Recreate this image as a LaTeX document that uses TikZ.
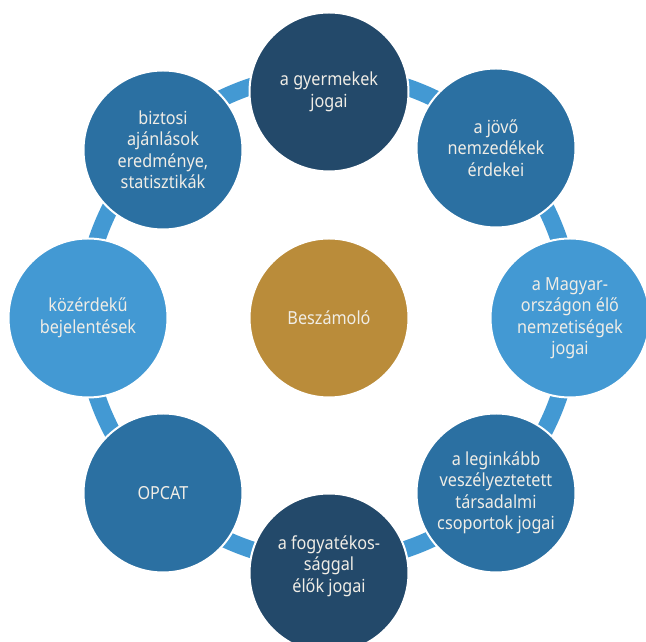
\documentclass[tikz,border=0pt]{standalone}
\usepackage{fontspec}
\setmainfont{Noto Sans}[FakeStretch=0.9]
\definecolor{navy}{HTML}{23496A}
\definecolor{midblue}{HTML}{2B70A2}
\definecolor{lightblue}{HTML}{4399D3}
\definecolor{gold}{HTML}{BA8C3A}
\definecolor{txt}{HTML}{F0EDE6}
\begin{document}
\begin{tikzpicture}[x=1pt,y=1pt,
  bubble/.style={circle, minimum size=159pt, inner sep=0pt, draw=white, line width=2pt,
    text=txt, align=center, font=\fontsize{18}{21.5}\selectfont},
  conn/.style={draw=lightblue, line width=17pt}]
\clip (0,0) rectangle (646,642);
\coordinate (ring) at (328,324);
\foreach \a [evaluate=\a as \s using \a-12, evaluate=\a as \e using \a+12] in {22.5,67.5,...,337.5}
  \draw[conn] ([shift={(\s:244pt)}]ring) arc[start angle=\s, end angle=\e, radius=244pt];
\node[bubble, fill=navy] (t) at (329,550) {a gyermekek\\jogai};
\node[bubble, fill=midblue] (tr) at (496,494) {a jövő\\nemzedékek\\érdekei};
\node[bubble, fill=lightblue] (r) at (570,324) {a Magyar-\\országon élő\\nemzetiségek\\jogai};
\node[bubble, fill=midblue] (br) at (496,149) {a leginkább\\veszélyeztetett\\társadalmi\\csoportok jogai};
\node[bubble, fill=navy] (b) at (329,69) {};
\node[text=txt, align=center, font=\fontsize{18}{21.5}\selectfont] (bt) at (329,76) {a fogyatékos-\\sággal\\élők jogai};
\node[bubble, fill=midblue] (bl) at (163,149) {OPCAT};
\node[bubble, fill=lightblue] (l) at (88,324) {közérdekű\\bejelentések};
\node[bubble, fill=midblue] (tl) at (163,492) {biztosi\\ajánlások\\eredménye,\\statisztikák};
\node[bubble, fill=gold] (c) at (329,324) {Beszámoló};
\end{tikzpicture}
\end{document}
